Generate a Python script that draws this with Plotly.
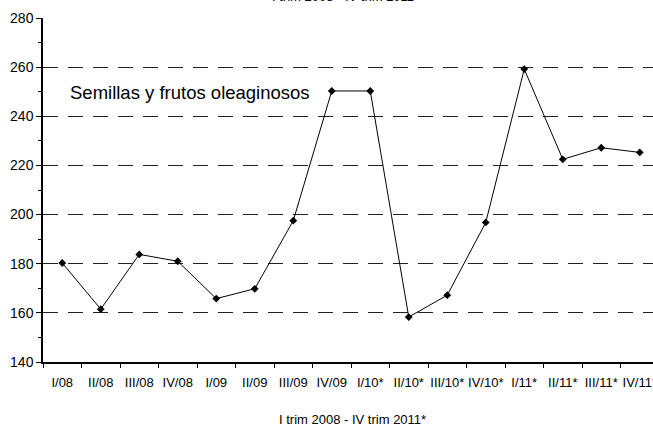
import plotly.graph_objects as go

categories = ["I/08", "II/08", "III/08", "IV/08", "I/09", "II/09", "III/09", "IV/09",
              "I/10*", "II/10*", "III/10*", "IV/10*", "I/11*", "II/11*", "III/11*", "IV/11*"]
values = [180.3, 161.5, 183.8, 181.0, 165.8, 169.8, 197.5, 250.3,
          250.3, 158.3, 167.2, 196.8, 259.2, 222.5, 227.2, 225.3]
series_name = "Semillas y frutos oleaginosos"
period_label = "I trim 2008 - IV trim 2011*"
y_ticks = [140, 160, 180, 200, 220, 240, 260, 280]

NARROW = "Liberation Sans Narrow, Arial Narrow, Liberation Sans, Arial"

L, T, B, W, H = 43, 18, 64, 653, 426
PW = W - L
PH = H - T - B

fig = go.Figure()
fig.add_trace(go.Scatter(
    x=list(range(len(categories))), y=values, mode="lines+markers",
    line=dict(color="black", width=1),
    marker=dict(symbol="diamond", size=6, color="black"),
    showlegend=False, cliponaxis=False, hoverinfo="skip",
))

fig.update_layout(
    width=W, height=H,
    margin=dict(l=L, r=0, t=T, b=B, autoexpand=False),
    paper_bgcolor="white", plot_bgcolor="white",
    font=dict(family=NARROW, color="black", size=13),
    xaxis=dict(
        range=[-0.5, -0.5 + PW / 38.5],
        automargin=False, ticklabeloverflow="allow",
        tickmode="array", tickvals=list(range(len(categories))), ticktext=categories,
        showgrid=False, zeroline=False,
        showline=True, linecolor="black", linewidth=1.5,
        ticks="", ticklabelstandoff=8, tickfont=dict(size=13, family=NARROW),
        minor=dict(tickmode="array", tickvals=[i + 0.5 for i in range(-1, 17)],
                   ticks="outside", ticklen=4, tickcolor="black", tickwidth=1),
    ),
    yaxis=dict(
        range=[140, 280], tickvals=y_ticks, automargin=False,
        showgrid=True, gridcolor="#222222", griddash="15px,10px", gridwidth=1,
        zeroline=False, showline=True, linecolor="black", linewidth=1.5,
        ticks="outside", ticklen=5, tickcolor="black",
        tickfont=dict(size=14, family=NARROW),
        minor=dict(dtick=10, ticks="outside", ticklen=3, tickcolor="black", showgrid=False),
    ),
    annotations=[
        dict(text=series_name, x=(68 - L) / PW, xref="paper", y=(H - B - 92) / PH, yref="paper",
             showarrow=False, font=dict(size=18.5, family="Liberation Sans, Arial"),
             xanchor="left", yanchor="middle"),
        dict(text=period_label, x=(352 - L) / PW, xref="paper", y=(H - B - 419) / PH, yref="paper",
             showarrow=False, font=dict(size=13, family=NARROW), xanchor="center", yanchor="middle"),
        dict(text=period_label, x=(345 - L) / PW, xref="paper", y=(H - B + 3) / PH, yref="paper",
             showarrow=False, font=dict(size=13, family=NARROW), xanchor="center", yanchor="middle"),
    ],
)

fig.write_html("out.html", config={"displayModeBar": False},
               post_script="document.body.style.margin='0';document.body.style.overflow='hidden';")
